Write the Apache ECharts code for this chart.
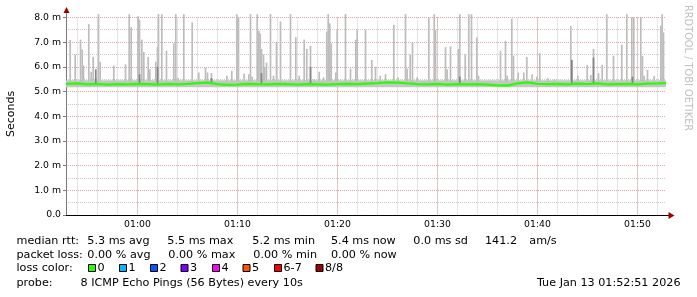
<!DOCTYPE html>
<html><head><meta charset="utf-8">
<script src="https://cdn.jsdelivr.net/npm/echarts@6/dist/echarts.min.js"></script>
<style>html,body{margin:0;padding:0;background:#fff}#c{width:697px;height:297px}</style>
</head><body><div id="c"></div>
<script>
// time in minutes after 00:00 (00:52:51 .. 01:52:51)
const timeMin = 52.85, timeMax = 112.85;
const yTicks = [0, 1, 2, 3, 4, 5, 6, 7, 8];

const spikeTimes = [53.27,53.77,54.30,54.47,54.60,55.13,55.37,55.57,56.10,56.27,57.63,58.80,59.17,59.37,60.07,60.20,60.43,60.63,61.07,61.23,61.83,62.00,62.10,62.43,62.90,63.63,63.83,64.07,
 64.63,65.47,66.13,66.80,67.00,67.40,68.93,69.43,69.93,70.10,70.67,71.13,71.30,71.47,71.97,72.13,72.27,72.40,72.60,72.73,72.90,73.30,73.60,73.90,74.30,75.30,75.83,76.17,
 76.67,76.93,77.30,77.67,78.17,78.60,78.93,79.07,79.23,79.37,79.83,79.97,80.80,81.30,81.83,81.97,82.80,83.43,83.80,84.27,84.80,85.63,86.07,86.80,86.97,87.27,87.50,87.97,
 89.13,89.67,89.80,90.80,90.97,91.30,92.10,92.23,92.77,93.13,93.40,93.93,94.10,96.30,96.80,96.97,97.43,97.60,98.07,98.63,98.93,99.47,99.93,
 100.23,101.03,101.70,103.33,103.43,104.03,104.97,105.33,105.60,106.10,106.47,106.93,107.60,108.43,108.93,109.43,109.63,110.33,110.50,110.67,111.00,111.67,112.33,112.47,112.60];
const spikeTops = [7.09,6.50,7.10,6.70,6.05,7.73,5.80,6.40,8.13,6.20,6.05,6.10,8.13,7.60,8.05,7.90,7.10,6.60,6.40,5.90,6.20,6.80,8.13,8.13,6.65,6.95,8.13,5.55,
 8.13,7.80,5.77,5.97,5.77,5.75,5.64,5.84,8.13,8.02,5.73,5.70,8.13,5.60,8.13,7.46,7.35,6.72,6.50,6.00,6.17,8.13,5.64,6.99,7.84,8.13,7.20,5.64,
 7.10,6.72,6.85,5.50,5.80,5.57,7.43,8.13,7.76,6.95,5.77,7.49,8.13,5.93,7.10,7.49,7.50,6.28,6.00,5.64,5.70,7.70,5.57,8.13,5.93,6.50,6.99,5.57,
 8.00,8.13,7.50,6.80,5.90,6.83,6.72,8.13,6.50,8.13,8.13,7.19,5.64,6.65,7.05,5.64,7.95,6.45,5.77,5.77,6.40,5.70,5.60,
 6.55,5.54,5.50,7.65,6.28,5.64,6.08,5.67,6.72,5.74,6.08,8.13,6.45,6.90,8.13,8.00,8.00,8.02,6.44,5.64,5.87,5.63,7.66,8.13,7.39];
const darkTimes = [55.83,60.20,62.00,67.40,72.40,77.30,92.23,103.43,105.60,109.50];
const darkTops  = [5.90,5.70,6.00,5.55,5.75,6.00,5.60,6.28,6.37,5.60];

const medianTimes = [52.85,53,54,55,56,57,58,59,60,61,62,63,64,65,66,67,68,69,70,71,72,73,74,75,76,77,78,79,80,81,82,
 83,84,85,86,87,88,89,90,91,92,93,94,95,96,97,98,99,100,101,102,103,104,105,106,107,108,109,110,111,112,112.85];
const medianValues = [5.31,5.30,5.33,5.29,5.31,5.28,5.30,5.29,5.31,5.30,5.28,5.31,5.29,5.31,5.34,5.36,5.30,5.27,5.28,5.31,5.30,
 5.29,5.31,5.30,5.28,5.30,5.29,5.28,5.30,5.31,5.30,5.32,5.34,5.37,5.36,5.33,5.30,5.29,5.31,5.28,5.30,5.29,5.30,5.28,5.25,5.24,
 5.33,5.37,5.31,5.30,5.31,5.29,5.32,5.30,5.33,5.29,5.30,5.31,5.29,5.32,5.33,5.34];

const bandLow = [5.17], bandHigh = [5.46];

const rttStats = ['5.3 ms avg','5.5 ms max','5.2 ms min','5.4 ms now','0.0 ms sd','141.2','am/s'];
const lossStats = ['0.00 % avg','0.00 % max','0.00 % min','0.00 % now'];
const lossLabels = ['0','1','2','3','4','5','6-7','8/8'];
const lossColors = ['#26ff00','#00b8ff','#0059ff','#7e00ff','#ff00ff','#ff5500','#ff0000','#a10000'];
const probeText = '8 ICMP Echo Pings (56 Bytes) every 10s';
const stampText = 'Tue Jan 13 01:52:51 2026';

const FONT = '"DejaVu Sans", sans-serif';
const chart = echarts.init(document.getElementById('c'), null, {renderer: 'canvas'});

function rectSeries(name, data, color, z) {
  return {
    type: 'custom', name, z, silent: true, clip: false,
    itemStyle: {color},
    data,
    renderItem: function (params, api) {
      const t = api.value(0), lo = api.value(1), hi = api.value(2);
      const top = api.coord([t, hi]), bot = api.coord([t, lo]);
      const w = Math.max(api.size([1 / 6, 0])[0], 1.7);
      return {type: 'rect', shape: {x: top[0] - w / 2, y: top[1], width: w, height: bot[1] - top[1]}, style: {fill: color, stroke: null}};
    }
  };
}
function bandSeries(name, lows, highs, color, z) {
  return {
    type: 'custom', name, z, silent: true,
    itemStyle: {color},
    data: lows.map((l, i) => [timeMin, timeMax, l, highs[i]]),
    renderItem: function (params, api) {
      const a = api.coord([api.value(0), api.value(3)]);
      const b = api.coord([api.value(1), api.value(2)]);
      return {type: 'rect', shape: {x: a[0], y: a[1], width: b[0] - a[0], height: b[1] - a[1]}, style: {fill: color, stroke: null}};
    }
  };
}

const LF = '11.2px ' + FONT;
const T = (text, x, y, extra) => Object.assign({
  type: 'text', x, y, silent: true,
  style: Object.assign({text, font: LF, fill: '#000', align: 'left', verticalAlign: 'middle', textAlign: 'left', textVerticalAlign: 'middle'}, extra || {})
});

const rttX = [87.3, 167.3, 252.3, 331, 413.3, 485, 529.3];
const lossX = [87.3, 168.3, 253.3, 331];
const boxX = [88, 119, 150, 180.5, 212, 242.5, 274, 315.5];

const graphics = [];
graphics.push(T('median rtt:', 16.5, 241));
rttStats.forEach((s, i) => graphics.push(T(s, rttX[i], 241)));
graphics.push(T('packet loss:', 16.5, 255.5));
lossStats.forEach((s, i) => graphics.push(T(s, lossX[i], 255.5)));
graphics.push(T('loss color:', 16.5, 268.5));
lossLabels.forEach((s, i) => {
  graphics.push({type: 'rect', silent: true, shape: {x: boxX[i] + 0.5, y: 264.5, width: 7, height: 7}, style: {fill: lossColors[i], stroke: '#000', lineWidth: 1}});
  graphics.push(T(s, boxX[i] + 9.5, 268.5));
});
graphics.push(T('probe:', 16.5, 283.5));
graphics.push(T(probeText, 80.5, 283.5));
graphics.push(T(stampText, 680.5, 283.5, {align: 'right', textAlign: 'right'}));
graphics.push(T('Seconds', 11, 114, {align: 'center', textAlign: 'center', font: '11px ' + FONT}));
graphics[graphics.length - 1].rotation = Math.PI / 2;
graphics.push(T('RRDTOOL / TOBI OETIKER', 687.5, 5, {font: '9.8px ' + FONT, fill: '#c0c0c0'}));
graphics[graphics.length - 1].rotation = -Math.PI / 2;
// axis arrows
graphics.push({type: 'line', silent: true, shape: {x1: 66.5, y1: 17.5, x2: 66.5, y2: 12}, style: {stroke: '#7a7a7a', lineWidth: 1}});
graphics.push({type: 'polygon', silent: true, shape: {points: [[63.5, 13], [69.5, 13], [66.5, 7]]}, style: {fill: '#990000'}});
graphics.push({type: 'line', silent: true, shape: {x1: 666, y1: 215.5, x2: 669, y2: 215.5}, style: {stroke: '#000', lineWidth: 1}});
graphics.push({type: 'polygon', silent: true, shape: {points: [[668.5, 212], [668.5, 219], [674.5, 215.5]]}, style: {fill: '#990000'}});

const pad2 = n => (n < 10 ? '0' : '') + n;
const majorGrid = {show: true, showMinLine: false, showMaxLine: false, lineStyle: {color: '#e2a4a4', type: [1, 1], width: 1}};
const minorGrid = {show: true, showMinLine: false, showMaxLine: false, lineStyle: {color: '#cacaca', type: [1, 1], width: 1}};

chart.setOption({
  animation: false,
  backgroundColor: '#fff',
  grid: {left: 66, right: 31, top: 17.4, bottom: 82, containLabel: false},
  xAxis: [{
    type: 'value', min: timeMin, max: timeMax, splitNumber: 6, minInterval: 10, maxInterval: 10, z: 1,
    axisLine: {show: true, lineStyle: {color: '#000', width: 1}},
    axisTick: {show: false},
    axisLabel: {show: true, margin: 5, color: '#000', fontFamily: FONT, fontSize: 9.3, showMinLabel: false, showMaxLabel: false,
      formatter: v => pad2(Math.floor(Math.round(v) / 60)) + ':' + pad2(Math.round(v) % 60)},
    splitLine: majorGrid
  }, {
    type: 'value', position: 'bottom', min: timeMin, max: timeMax, splitNumber: 30, minInterval: 2, maxInterval: 2, z: 0,
    axisLine: {show: false}, axisTick: {show: false}, axisLabel: {show: false},
    splitLine: minorGrid
  }],
  yAxis: [{
    type: 'value', min: yTicks[0], max: yTicks[yTicks.length - 1], interval: 1, z: 1,
    axisLine: {show: true, lineStyle: {color: '#7a7a7a', width: 1}},
    axisTick: {show: true, length: 3, lineStyle: {color: '#7a7a7a'}},
    axisLabel: {margin: 5, color: '#000', fontFamily: FONT, fontSize: 9.3, formatter: v => v === 0 ? '0.0' : v.toFixed(1) + ' m'},
    splitLine: {show: true, lineStyle: majorGrid.lineStyle},
    minorTick: {show: false, splitNumber: 2},
    minorSplitLine: {show: true, lineStyle: minorGrid.lineStyle}
  }],
  series: [
    bandSeries('smoke band', bandLow, bandHigh, '#c6c6c6', 2),
    rectSeries('smoke', spikeTimes.map((t, i) => [t, 5.42, spikeTops[i]]), '#bdbdbd', 3),
    rectSeries('dark smoke', darkTimes.map((t, i) => [t, 5.3, darkTops[i]]), '#858585', 4),
    {
      type: 'line', name: 'median rtt', z: 6, silent: true, showSymbol: false, symbol: 'none',
      itemStyle: {color: '#26ff00'},
      data: medianTimes.map((t, i) => [t, medianValues[i]]),
      lineStyle: {color: '#26ff00', width: 2.4}
    }
  ],
  graphic: {elements: graphics}
});
</script></body></html>
